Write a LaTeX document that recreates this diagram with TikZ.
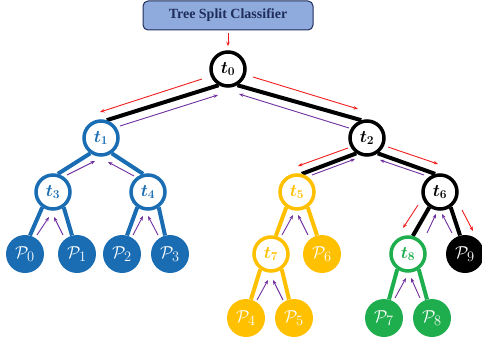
\documentclass[tikz,border=0pt]{standalone}
\usepackage{fontspec}
\setmainfont{Liberation Serif}
\usepackage{amsmath,amsbsy}
\usetikzlibrary{arrows.meta,calc,backgrounds}
\definecolor{tblue}{HTML}{1A6DB3}
\definecolor{tgold}{HTML}{FFC000}
\definecolor{tgreen}{HTML}{1EAE4E}
\definecolor{tred}{HTML}{F01E1E}
\definecolor{tpurp}{HTML}{7030A0}
\definecolor{boxfill}{HTML}{8FAADC}
\definecolor{boxline}{HTML}{1F2D5A}
\newcommand\arrw[5]{\draw[#1] ($(#2)+(#3)$) -- ($(#4)+(#5)$);}
\newcommand\tl[1]{$\boldsymbol{t_{#1}}$}
\newcommand\pl[1]{$\mathcal{P}_{#1}$}
\begin{document}
\begin{tikzpicture}[x=1pt,y=-1pt,
 inode/.style={circle,minimum size=34pt,inner sep=0pt,line width=3.5pt,draw=#1,fill=white,text=#1,font=\fontsize{17}{17}\selectfont},
 leaf/.style={circle,minimum size=38pt,inner sep=0pt,fill=#1,text=white,font=\fontsize{19}{19}\selectfont},
 tedge/.style={line width=4pt,draw=#1},
 redarr/.style={draw=tred,line width=0.9pt,-{Stealth[length=4.5pt,width=3.5pt]}},
 purarr/.style={draw=tpurp,line width=0.9pt,-{Stealth[length=4.5pt,width=3.5pt]}},
]
\useasboundingbox (0,0) rectangle (482,345);
\node[draw=boxline, fill=boxfill, rounded corners=5pt, line width=1pt, minimum width=170pt, minimum height=29pt, text=boxline, font=\bfseries\fontsize{14}{14}\selectfont] (box) at (228,15.5) {Tree Split Classifier};
% internal nodes
\node[inode=black] (t0) at (228,69) {\tl0};
\node[inode=tblue] (t1) at (101,138) {\tl1};
\node[inode=black] (t2) at (367,138) {\tl2};
\node[inode=tblue] (t3) at (53,192) {\tl3};
\node[inode=tblue] (t4) at (148,192) {\tl4};
\node[inode=tgold] (t5) at (297,192) {\tl5};
\node[inode=black] (t6) at (440,192) {\tl6};
\node[inode=tgold] (t7) at (271,254) {\tl7};
\node[inode=tgreen] (t8) at (408,254) {\tl8};
% leaves
\node[leaf=tblue] (P0) at (25,254) {\pl0};
\node[leaf=tblue] (P1) at (77,254) {\pl1};
\node[leaf=tblue] (P2) at (122,254) {\pl2};
\node[leaf=tblue] (P3) at (170,254) {\pl3};
\node[leaf=tgold] (P6) at (322,254) {\pl6};
\node[leaf=black] (P9) at (465,254) {\pl9};
\node[leaf=tgold] (P4) at (246,318) {\pl4};
\node[leaf=tgold] (P5) at (294,318) {\pl5};
\node[leaf=tgreen] (P7) at (384,318) {\pl7};
\node[leaf=tgreen] (P8) at (432,318) {\pl8};
% edges
\begin{scope}[on background layer]
\draw[tedge=black] (t0.240) -- (t1.72);
\draw[tedge=black] (t0.300) -- (t2.108);
\draw[tedge=tblue] (t1.235) -- (t3.75);
\draw[tedge=tblue] (t1.305) -- (t4.105);
\draw[tedge=black] (t2.235) -- (t5.75);
\draw[tedge=black] (t2.305) -- (t6.105);
\draw[tedge=tblue] (t3.235) -- (P0.75);
\draw[tedge=tblue] (t3.305) -- (P1.105);
\draw[tedge=tblue] (t4.235) -- (P2.75);
\draw[tedge=tblue] (t4.305) -- (P3.105);
\draw[tedge=tgold] (t5.235) -- (t7.75);
\draw[tedge=tgold] (t5.305) -- (P6.105);
\draw[tedge=black] (t6.235) -- (t8.75);
\draw[tedge=black] (t6.305) -- (P9.105);
\draw[tedge=tgold] (t7.235) -- (P4.75);
\draw[tedge=tgold] (t7.305) -- (P5.105);
\draw[tedge=tgreen] (t8.235) -- (P7.75);
\draw[tedge=tgreen] (t8.305) -- (P8.105);
\end{scope}
% red arrows
\arrw{redarr}{box.south}{0,3}{t0.north}{0,-4}
\arrw{redarr}{t0}{-26,10}{t1}{-1,-26}
\arrw{redarr}{t0}{25,8}{t2}{-9,-29}
\arrw{redarr}{t2}{-19,10}{t5}{1,-26}
\arrw{redarr}{t2}{21,9}{t6}{-2,-28}
\arrw{redarr}{t6}{-22,13}{t8}{-5,-26}
\arrw{redarr}{t6}{22,18}{P9}{8,-23}
% purple arrows
\arrw{purarr}{t1}{19,-12}{t0}{-10,26}
\arrw{purarr}{t2}{-18,-10}{t0}{11,25}
\arrw{purarr}{t3}{14,-17}{t1}{-6,23}
\arrw{purarr}{t4}{-14,-16}{t1}{7,24}
\arrw{purarr}{P0}{12,-19}{t3}{-4,25}
\arrw{purarr}{P1}{-14,-19}{t3}{1,25}
\arrw{purarr}{P2}{11,-19}{t4}{-5,24}
\arrw{purarr}{P3}{-12,-19}{t4}{0,24}
\arrw{purarr}{t5}{15,-17}{t2}{-12,21}
\arrw{purarr}{t6}{-16,-17}{t2}{13,22}
\arrw{purarr}{t7}{11,-19}{t5}{-4,23}
\arrw{purarr}{P6}{-14,-19}{t5}{1,23}
\arrw{purarr}{P4}{11,-18}{t7}{-3,26}
\arrw{purarr}{P5}{-11,-18}{t7}{2,26}
\arrw{purarr}{t8}{19,-21}{t6}{-4,22}
\arrw{purarr}{P9}{-13,-21}{t6}{2,22}
\arrw{purarr}{P7}{11,-20}{t8}{-2,24}
\arrw{purarr}{P8}{-12,-20}{t8}{3,24}
\end{tikzpicture}
\end{document}
